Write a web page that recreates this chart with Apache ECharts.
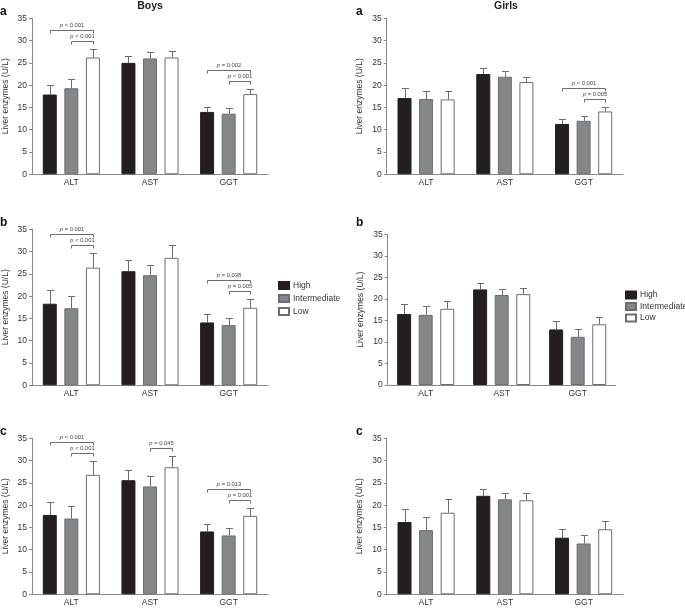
<!DOCTYPE html>
<html><head><meta charset="utf-8">
<script src="https://cdn.jsdelivr.net/npm/echarts@6/dist/echarts.min.js"></script>
<style>html,body{margin:0;padding:0;background:#fff}#c{width:685px;height:608px}</style>
</head><body><div id="c"></div>
<script>
// ---------- data ----------
const categories = ['ALT', 'AST', 'GGT'];
const groups = ['High', 'Intermediate', 'Low'];
const yMin = 0, yMax = 35, yStep = 5;

// Boys a
const boysA_high  = [17.9, 25.0, 14.0];
const boysA_inter = [19.3, 26.0, 13.6];
const boysA_low   = [26.2, 26.2, 18.0];
const boysA_high_err  = [2.1, 1.5, 1.2];
const boysA_inter_err = [2.0, 1.4, 1.2];
const boysA_low_err   = [2.0, 1.4, 1.1];
const boysA_brackets = [[0, 1, 2, '< 0.001'], [0, 0, 2, '< 0.001'], [2, 1, 2, '< 0.001'], [2, 0, 2, '= 0.002']];

// Girls a
const girlsA_high  = [17.1, 22.5, 11.3];
const girlsA_inter = [16.9, 21.9, 12.0];
const girlsA_low   = [16.8, 20.7, 14.1];
const girlsA_high_err  = [2.2, 1.3, 1.1];
const girlsA_inter_err = [1.9, 1.2, 1.0];
const girlsA_low_err   = [2.0, 1.1, 0.9];
const girlsA_brackets = [[2, 1, 2, '= 0.005'], [2, 0, 2, '< 0.001']];

// Boys b
const boysB_high  = [18.3, 25.6, 14.1];
const boysB_inter = [17.3, 24.7, 13.5];
const boysB_low   = [26.4, 28.6, 17.4];
const boysB_high_err  = [3.0, 2.6, 1.8];
const boysB_inter_err = [2.7, 2.4, 1.7];
const boysB_low_err   = [3.2, 2.8, 1.9];
const boysB_brackets = [[0, 1, 2, '< 0.001'], [0, 0, 2, '= 0.001'], [2, 1, 2, '= 0.005'], [2, 0, 2, '= 0.038']];

// Girls b
const girlsB_high  = [16.5, 22.2, 12.9];
const girlsB_inter = [16.3, 20.9, 11.2];
const girlsB_low   = [17.7, 21.1, 14.1];
const girlsB_high_err  = [2.2, 1.6, 1.9];
const girlsB_inter_err = [2.0, 1.3, 1.7];
const girlsB_low_err   = [1.9, 1.4, 1.8];
const girlsB_brackets = [];

// Boys c
const boysC_high  = [17.8, 25.6, 14.1];
const boysC_inter = [17.0, 24.2, 13.2];
const boysC_low   = [26.8, 28.5, 17.6];
const boysC_high_err  = [2.8, 2.4, 1.6];
const boysC_inter_err = [2.7, 2.4, 1.7];
const boysC_low_err   = [3.0, 2.6, 1.7];
const boysC_brackets = [[0, 1, 2, '< 0.001'], [0, 0, 2, '< 0.001'], [1, 1, 2, '= 0.045'], [2, 1, 2, '= 0.001'], [2, 0, 2, '= 0.013']];

// Girls c
const girlsC_high  = [16.2, 22.1, 12.7];
const girlsC_inter = [14.4, 21.3, 11.4];
const girlsC_low   = [18.3, 21.1, 14.6];
const girlsC_high_err  = [2.9, 1.5, 1.9];
const girlsC_inter_err = [2.9, 1.4, 1.8];
const girlsC_low_err   = [3.0, 1.6, 1.9];
const girlsC_brackets = [];

// ---------- style / layout ----------
const FONT = 'Liberation Sans, Arial, Helvetica, sans-serif';
const BAR_W = 14, GAP_RATIO = 0.54;
const STEP = BAR_W * (1 + GAP_RATIO);
const CAP = 3.5;
const ERR_COLOR = '#6d6e71';
const AXIS_COLOR = '#8a8a8a';
const fills = ['#231f20', '#858689', '#ffffff'];
const borders = ['#231f20', '#6d6e71', '#6d6e71'];

const panels = [
  {grid: {left: 30, top: 18.3, width: 238, height: 156}, means: [boysA_high, boysA_inter, boysA_low], errs: [boysA_high_err, boysA_inter_err, boysA_low_err], brackets: boysA_brackets, nameGap: 22},
  {grid: {left: 386.7, top: 18.3, width: 236.3, height: 156}, means: [girlsA_high, girlsA_inter, girlsA_low], errs: [girlsA_high_err, girlsA_inter_err, girlsA_low_err], brackets: girlsA_brackets, nameGap: 23},
  {grid: {left: 30, top: 229.3, width: 238, height: 156}, means: [boysB_high, boysB_inter, boysB_low], errs: [boysB_high_err, boysB_inter_err, boysB_low_err], brackets: boysB_brackets, nameGap: 22},
  {grid: {left: 387.7, top: 234.3, width: 228, height: 150.7}, means: [girlsB_high, girlsB_inter, girlsB_low], errs: [girlsB_high_err, girlsB_inter_err, girlsB_low_err], brackets: girlsB_brackets, nameGap: 23},
  {grid: {left: 30, top: 438.3, width: 238, height: 156}, means: [boysC_high, boysC_inter, boysC_low], errs: [boysC_high_err, boysC_inter_err, boysC_low_err], brackets: boysC_brackets, nameGap: 22},
  {grid: {left: 386.7, top: 438.3, width: 236.3, height: 156}, means: [girlsC_high, girlsC_inter, girlsC_low], errs: [girlsC_high_err, girlsC_inter_err, girlsC_low_err], brackets: girlsC_brackets, nameGap: 23}
];

const grids = [], xAxes = [], yAxes = [], series = [];

panels.forEach((p, i) => {
  grids.push(Object.assign({containLabel: false}, p.grid));
  xAxes.push({
    type: 'category', gridIndex: i, data: categories,
    axisLine: {lineStyle: {color: AXIS_COLOR, width: 1}},
    axisTick: {show: false},
    axisLabel: {color: '#333', fontSize: 8.5, fontFamily: FONT, margin: 4}
  });
  yAxes.push({
    type: 'value', gridIndex: i, min: yMin, max: yMax, interval: yStep,
    name: 'Liver enzymes (U/L)', nameLocation: 'middle', nameGap: p.nameGap,
    nameTextStyle: {color: '#333', fontSize: 8.5, fontFamily: FONT},
    axisLine: {show: true, lineStyle: {color: AXIS_COLOR, width: 1}},
    axisTick: {show: true, length: 3, lineStyle: {color: AXIS_COLOR}},
    axisLabel: {color: '#333', fontSize: 8.5, fontFamily: FONT, margin: 5},
    splitLine: {show: false}
  });
  // bars
  groups.forEach((g, gi) => {
    series.push({
      type: 'bar', name: g, xAxisIndex: i, yAxisIndex: i,
      data: p.means[gi], barWidth: BAR_W, barGap: (GAP_RATIO * 100) + '%',
      itemStyle: {color: fills[gi], borderColor: borders[gi], borderWidth: 1},
      emphasis: {disabled: true}, z: 3
    });
  });
  // error bars
  const errData = [];
  groups.forEach((g, gi) => {
    categories.forEach((c, ci) => {
      errData.push([ci, gi, p.means[gi][ci], p.means[gi][ci] + p.errs[gi][ci]]);
    });
  });
  series.push({
    type: 'custom', xAxisIndex: i, yAxisIndex: i, data: errData, z: 2,
    encode: {x: 0, y: [2, 3]}, silent: true,
    renderItem: (params, api) => {
      const ci = api.value(0), gi = api.value(1);
      const p0 = api.coord([ci, api.value(2)]);
      const p1 = api.coord([ci, api.value(3)]);
      const x = Math.round(p0[0] + (gi - 1) * STEP) + 0.5;
      const y1 = Math.round(p1[1]) + 0.5;
      const st = {stroke: ERR_COLOR, lineWidth: 1};
      return {type: 'group', children: [
        {type: 'line', shape: {x1: x, y1: p0[1], x2: x, y2: y1}, style: st},
        {type: 'line', shape: {x1: x - CAP, y1: y1, x2: x + CAP, y2: y1}, style: st}
      ]};
    }
  });
  // significance brackets
  if (p.brackets.length) {
    const levelCount = {};
    const base = {};
    p.brackets.forEach(b => {
      for (let gi = b[1]; gi <= b[2]; gi++) {
        const top = p.means[gi][b[0]] + p.errs[gi][b[0]];
        base[b[0]] = Math.max(base[b[0]] || 0, top);
      }
    });
    const bData = p.brackets.map(b => {
      const lvl = levelCount[b[0]] || 0;
      levelCount[b[0]] = lvl + 1;
      return [b[0], b[1], b[2], lvl, base[b[0]]];
    });
    const labels = p.brackets.map(b => b[3]);
    series.push({
      type: 'custom', xAxisIndex: i, yAxisIndex: i, data: bData, z: 4, silent: true,
      encode: {x: 0, y: 4}, clip: false,
      renderItem: (params, api) => {
        const ci = api.value(0);
        const cx = api.coord([ci, 0])[0];
        const yb = Math.round(api.coord([ci, api.value(4)])[1] - 8 - api.value(3) * 11) + 0.5;
        const x1 = Math.round(cx + (api.value(1) - 1) * STEP) + 0.5;
        const x2 = Math.round(cx + (api.value(2) - 1) * STEP) + 0.5;
        return {type: 'group', children: [
          {type: 'polyline', shape: {points: [[x1, yb + 3], [x1, yb], [x2, yb], [x2, yb + 3]]},
           style: {stroke: ERR_COLOR, lineWidth: 1, fill: null}},
          {type: 'text', style: {
            text: '{i|p} ' + labels[params.dataIndex], x: (x1 + x2) / 2, y: yb - 2.5,
            align: 'center', verticalAlign: 'bottom', fill: '#444',
            fontSize: 5.8, fontFamily: FONT,
            rich: {i: {fontStyle: 'italic', fontSize: 5.8, fontFamily: FONT, fill: '#444'}}
          }}
        ]};
      }
    });
  }
});

const legendBase = {
  orient: 'vertical', data: groups, itemWidth: 10, itemHeight: 7,
  icon: 'rect', selectedMode: false, padding: 0,
  textStyle: {color: '#333', fontSize: 8.5, fontFamily: FONT, padding: [0, 0, 0, -1]}
};

const letters = [
  ['a', 0, 13.3], ['a', 356, 13.3],
  ['b', 0, 225], ['b', 356, 225],
  ['c', 0, 433.5], ['c', 356, 433.5]
];
const graphics = letters.map(l => ({
  type: 'text', left: l[1], top: l[2] - 8, silent: true,
  style: {text: l[0], fontSize: 12, fontWeight: 'bold', fontFamily: FONT, fill: '#111'}
}));
graphics.push({type: 'text', x: 150, y: 6, silent: true,
  style: {text: 'Boys', fontSize: 10.5, fontWeight: 'bold', fontFamily: FONT, fill: '#222', align: 'center', verticalAlign: 'middle'}});
graphics.push({type: 'text', x: 506, y: 6, silent: true,
  style: {text: 'Girls', fontSize: 10.5, fontWeight: 'bold', fontFamily: FONT, fill: '#222', align: 'center', verticalAlign: 'middle'}});

const chart = echarts.init(document.getElementById('c'), null, {renderer: 'canvas'});
chart.setOption({
  animation: false,
  backgroundColor: '#fff',
  grid: grids, xAxis: xAxes, yAxis: yAxes,
  legend: [
    Object.assign({}, legendBase, {left: 278, top: 281, itemGap: 4}),
    Object.assign({}, legendBase, {left: 625, top: 290.5, itemGap: 2.5})
  ],
  graphic: graphics,
  series: series
});
</script></body></html>
